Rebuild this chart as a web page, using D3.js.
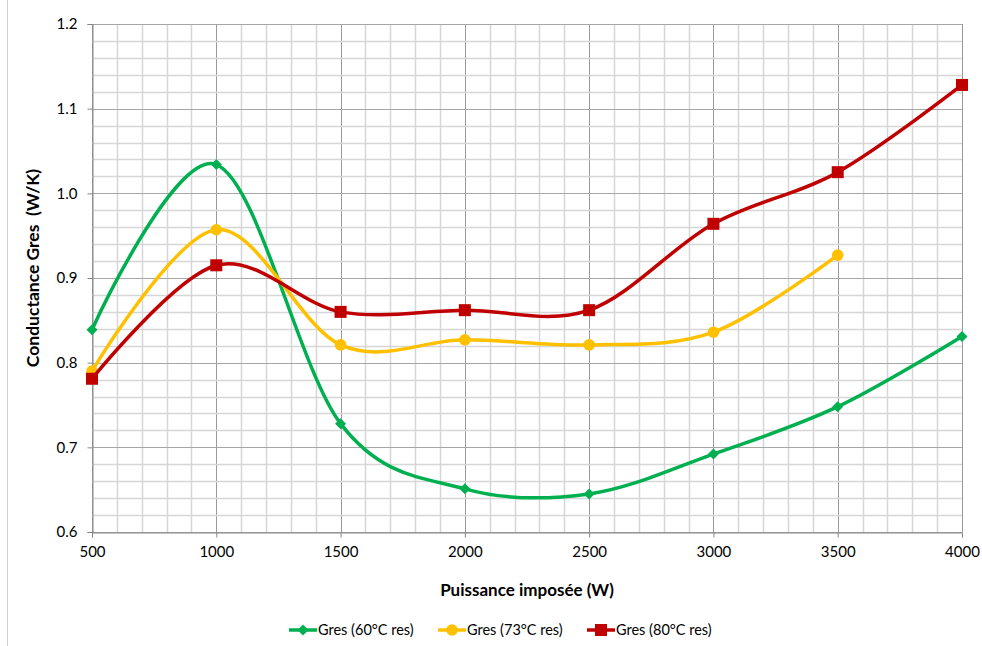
<!DOCTYPE html>
<html><head><meta charset="utf-8">
<script src="https://cdn.jsdelivr.net/npm/d3@7"></script>
<style>body{margin:0;background:#fff;} text{font-family:Lato,"Open Sans",sans-serif;fill:#000;}</style>
</head><body>
<svg id="c" width="982" height="646"></svg>
<script>
const xValues = [500, 1000, 1500, 2000, 2500, 3000, 3500, 4000];
const gres60 = [0.839, 1.034, 0.728, 0.651, 0.645, 0.692, 0.748, 0.831];
const gres73 = [0.790, 0.957, 0.821, 0.827, 0.821, 0.836, 0.927];
const gres80 = [0.781, 0.915, 0.860, 0.862, 0.862, 0.964, 1.025, 1.128];
const seriesNames = ["Gres (60°C res)", "Gres (73°C res)", "Gres (80°C res)"];
const xTicks = [500, 1000, 1500, 2000, 2500, 3000, 3500, 4000];
const yTicks = [0.6, 0.7, 0.8, 0.9, 1.0, 1.1, 1.2];

const svg = d3.select("#c");
const L = 92, R = 962, T = 24, B = 532;
const x = d3.scaleLinear().domain([500, 4000]).range([L, R]);
const y = d3.scaleLinear().domain([0.6, 1.2]).range([B, T]);

// outer border
svg.append("line").attr("x1", 7.5).attr("x2", 7.5).attr("y1", 0).attr("y2", 646).attr("stroke", "#d0d0d0");

// grid
const g = svg.append("g");
d3.range(500, 4001, 100).forEach(v => {
  const major = v % 500 === 0;
  g.append("line").attr("x1", Math.round(x(v)) + 0.5).attr("x2", Math.round(x(v)) + 0.5)
    .attr("y1", T).attr("y2", B).attr("stroke", major ? "#9a9a9a" : "#d6d6d6").attr("stroke-width", major ? 1 : 1.5);
});
d3.range(0, 31).forEach(i => {
  const v = 0.6 + i * 0.02;
  const major = i % 5 === 0;
  g.append("line").attr("x1", L).attr("x2", R).attr("y1", Math.round(y(v)) + 0.5).attr("y2", Math.round(y(v)) + 0.5)
    .attr("stroke", major ? "#a6a6a6" : "#d6d6d6").attr("stroke-width", major ? 1.2 : 1.5);
});

// axes
const yAxis = svg.append("g").attr("transform", `translate(${L + 0.5},0)`)
  .call(d3.axisLeft(y).tickValues(yTicks).tickFormat(d3.format(".1f")).tickSize(5).tickPadding(10));
const xAxis = svg.append("g").attr("transform", `translate(0,${B + 0.5})`)
  .call(d3.axisBottom(x).tickValues(xTicks).tickFormat(d3.format("d")).tickSize(5).tickPadding(9));
[yAxis, xAxis].forEach(a => {
  a.select(".domain").attr("stroke", "#868686");
  a.selectAll(".tick line").attr("stroke", "#868686");
  a.selectAll("text").style("font-size", "15px").style("font-family", "Lato,'Open Sans',sans-serif").attr("fill", "#000");
});

// titles
svg.append("text").attr("x", 527).attr("y", 596).attr("text-anchor", "middle")
  .style("font-size", "17px").style("font-weight", "bold").text("Puissance imposée (W)");
svg.append("text").attr("transform", "translate(39,268) rotate(-90)").attr("text-anchor", "middle")
  .style("font-size", "17.5px").style("font-weight", "bold").style("white-space", "pre").text("Conductance Gres  (W/K)");

const colors = ["#00b050", "#ffc000", "#c00000"];
const data = [gres60, gres73, gres80];
const line = d3.line().x(d => x(d[0])).y(d => y(d[1])).curve(d3.curveCardinal.tension(0));

function marker(sel, i, cx, cy) {
  if (i === 0) {
    sel.append("path").attr("d", `M${cx},${cy - 5.5}L${cx + 5.5},${cy}L${cx},${cy + 5.5}L${cx - 5.5},${cy}Z`).attr("fill", colors[0]);
  } else if (i === 1) {
    sel.append("circle").attr("cx", cx).attr("cy", cy).attr("r", 5.8).attr("fill", colors[1]);
  } else {
    sel.append("rect").attr("x", cx - 6).attr("y", cy - 6).attr("width", 12).attr("height", 12).attr("fill", colors[2]);
  }
}

data.forEach((vals, i) => {
  const pts = vals.map((v, j) => [xValues[j], v]);
  svg.append("path").datum(pts).attr("d", line).attr("fill", "none").attr("stroke", colors[i]).attr("stroke-width", 3.5);
  const mg = svg.append("g");
  pts.forEach(p => marker(mg, i, x(p[0]), y(p[1])));
});

// legend
const legX = [289, 438, 587];
seriesNames.forEach((n, i) => {
  const lg = svg.append("g");
  lg.append("line").attr("x1", legX[i]).attr("x2", legX[i] + 28).attr("y1", 630).attr("y2", 630)
    .attr("stroke", colors[i]).attr("stroke-width", 3.5);
  marker(lg, i, legX[i] + 14, 630);
  lg.append("text").attr("x", legX[i] + 29).attr("y", 635).style("font-size", "14.5px").text(n);
});
</script>
</body></html>
